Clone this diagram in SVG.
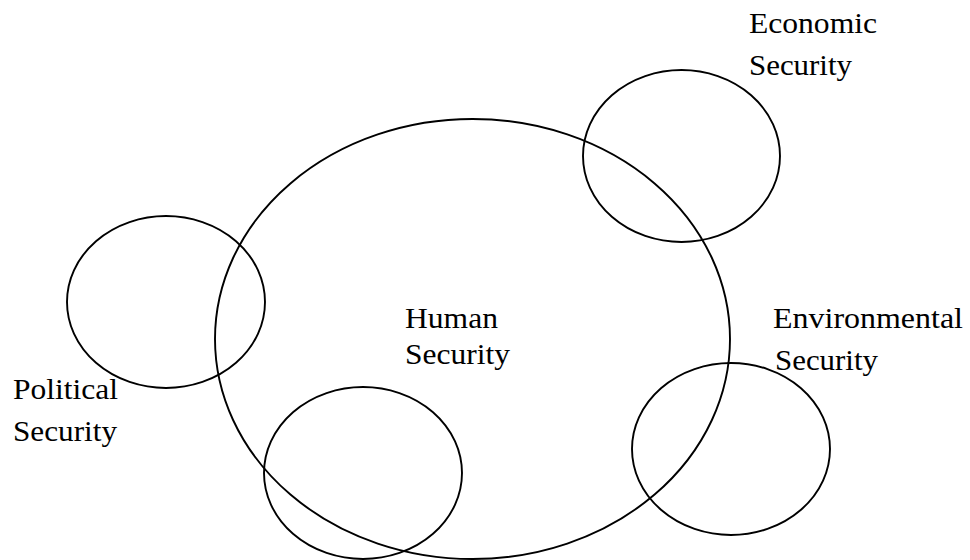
<svg xmlns="http://www.w3.org/2000/svg" width="970" height="560" viewBox="0 0 970 560">
<style>
.c{fill:none;stroke:#000;stroke-width:1.9}
.t{font-family:"Liberation Serif","Times New Roman",serif;font-size:30px;fill:#000}
</style>
<rect width="970" height="560" fill="#fff"/>
<g id="human">
<ellipse class="c" cx="472.5" cy="339" rx="257.5" ry="220"/>
<text class="t" x="405" y="328" textLength="93" lengthAdjust="spacingAndGlyphs">Human</text>
<text class="t" x="405" y="364" textLength="105" lengthAdjust="spacingAndGlyphs">Security</text>
</g>
<g id="economic">
<ellipse class="c" cx="681.5" cy="156" rx="98.5" ry="86"/>
<text class="t" x="749" y="33" textLength="128" lengthAdjust="spacingAndGlyphs">Economic</text>
<text class="t" x="749" y="75" textLength="103" lengthAdjust="spacingAndGlyphs">Security</text>
</g>
<g id="political">
<ellipse class="c" cx="166" cy="302" rx="99" ry="86"/>
<text class="t" x="13" y="399" textLength="105" lengthAdjust="spacingAndGlyphs">Political</text>
<text class="t" x="13" y="441" textLength="104" lengthAdjust="spacingAndGlyphs">Security</text>
</g>
<g id="environmental">
<ellipse class="c" cx="731" cy="449" rx="99" ry="86"/>
<text class="t" x="773" y="328" textLength="190" lengthAdjust="spacingAndGlyphs">Environmental</text>
<text class="t" x="775" y="370" textLength="103" lengthAdjust="spacingAndGlyphs">Security</text>
</g>
<g id="unlabeled">
<ellipse class="c" cx="363" cy="473" rx="99" ry="86"/>
</g>
<g id="connectors"></g>
</svg>
